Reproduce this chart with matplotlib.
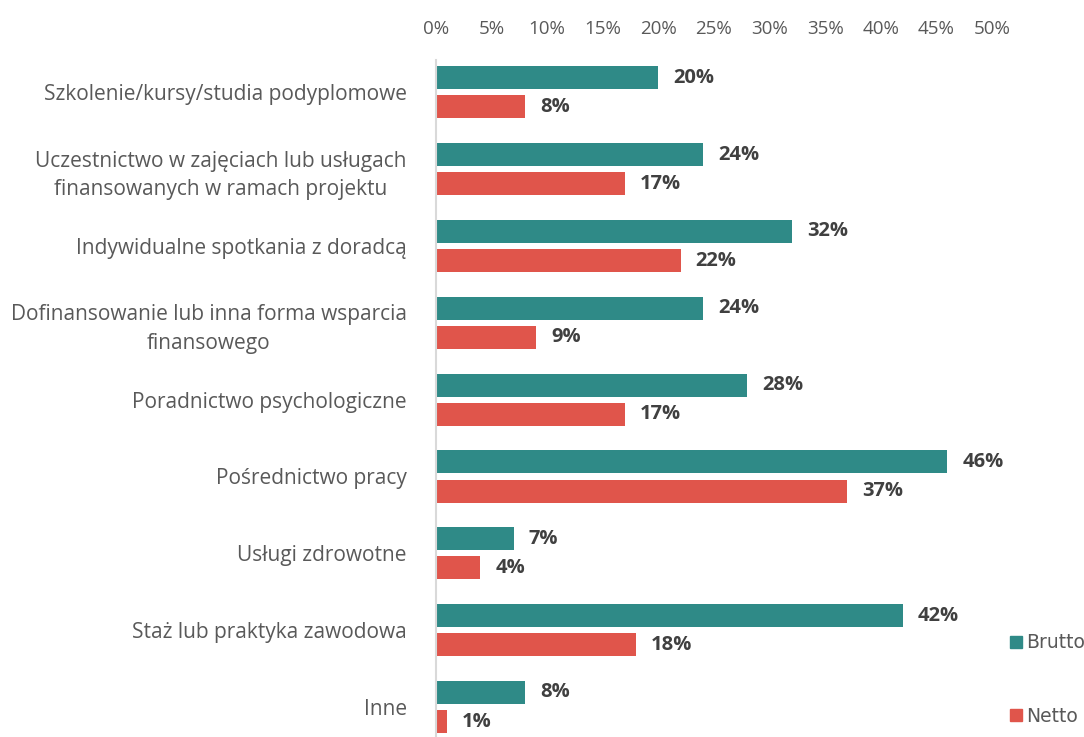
import numpy as np
import matplotlib
matplotlib.use("Agg")
import matplotlib.pyplot as plt
from matplotlib.lines import Line2D

categories = [
    "Szkolenie/kursy/studia podyplomowe",
    "Uczestnictwo w zajęciach lub usługach\nfinansowanych w ramach projektu",
    "Indywidualne spotkania z doradcą",
    "Dofinansowanie lub inna forma wsparcia\nfinansowego",
    "Poradnictwo psychologiczne",
    "Pośrednictwo pracy",
    "Usługi zdrowotne",
    "Staż lub praktyka zawodowa",
    "Inne",
]
brutto = [20, 24, 32, 24, 28, 46, 7, 42, 8]
netto = [8, 17, 22, 9, 17, 37, 4, 18, 1]
ticks = [0, 5, 10, 15, 20, 25, 30, 35, 40, 45, 50]

TEAL = "#2F8A87"
RED = "#E0554B"
GRAY = "#595959"

plt.rcParams["font.family"] = ["Open Sans", "DejaVu Sans"]

fig = plt.figure(figsize=(10.84, 7.37), dpi=100)
ax = fig.add_axes([0.4022, 0.0, 0.5129, 0.9186])

y = np.arange(len(categories))
h = 0.30
off = 0.19
ax.barh(y - off, brutto, height=h, color=TEAL, label="Brutto")
ax.barh(y + off, netto, height=h, color=RED, label="Netto")

for yi, b, n in zip(y, brutto, netto):
    ax.text(b + 1.35, yi - off, f"{b}%", va="center", ha="left",
            fontsize=14.5, fontweight="bold", color="#404040")
    ax.text(n + 1.35, yi + off, f"{n}%", va="center", ha="left",
            fontsize=14.5, fontweight="bold", color="#404040")

ax.set_xlim(0, 50)
ax.set_ylim(8.39, -0.42)
ax.set_xticks(ticks)
ax.set_xticklabels([f"{t}%" for t in ticks], fontsize=13.5, color=GRAY)
ax.xaxis.tick_top()
ax.tick_params(axis="x", length=0, pad=16)
ax.set_yticks(y)
labels = ax.set_yticklabels(categories, fontsize=15, color=GRAY, multialignment="center")
for lab in labels:
    lab.set_linespacing(1.45)
ax.tick_params(axis="y", length=0, pad=21)

for s in ["top", "right", "bottom"]:
    ax.spines[s].set_visible(False)
ax.spines["left"].set_color("#D9D9D9")
ax.spines["left"].set_linewidth(1.5)

handles = [
    Line2D([], [], marker="s", linestyle="", color=TEAL, markersize=8),
    Line2D([], [], marker="s", linestyle="", color=RED, markersize=8),
]
fig.legend(handles, ["Brutto", "Netto"], loc="center left",
           bbox_to_anchor=(0.9134, 0.078), frameon=False,
           labelcolor=GRAY, labelspacing=2.9, handletextpad=0.0,
           handlelength=1.0, prop={"family": ["DejaVu Sans"], "size": 13.5})

fig.savefig("out.png", dpi=100)
